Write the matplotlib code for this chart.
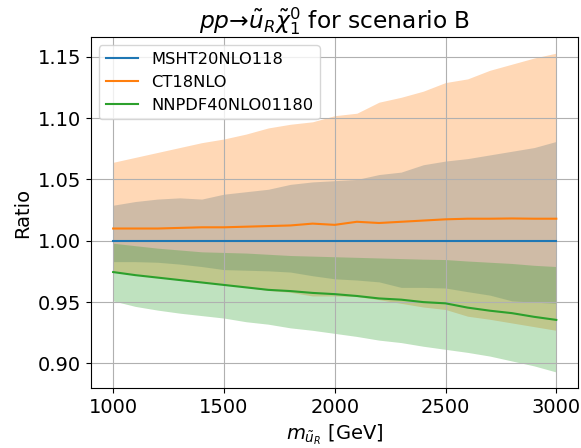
import numpy as np
import matplotlib
matplotlib.use("Agg")
import matplotlib.pyplot as plt

plt.rcParams['font.size'] = 14

mass = [1000, 1100, 1200, 1300, 1400, 1500, 1600, 1700, 1800, 1900, 2000,
        2100, 2200, 2300, 2400, 2500, 2600, 2700, 2800, 2900, 3000]

# MSHT20NLO118 (reference)
msht_central = [1.000] * 21
msht_upper = [1.029, 1.032, 1.034, 1.035, 1.034, 1.038, 1.040, 1.042, 1.046, 1.048, 1.049,
              1.050, 1.054, 1.056, 1.062, 1.065, 1.067, 1.070, 1.073, 1.076, 1.081]
msht_lower = [0.983, 0.983, 0.9825, 0.981, 0.979, 0.9765, 0.976, 0.9755, 0.9745, 0.9715, 0.969,
              0.968, 0.9665, 0.962, 0.962, 0.9615, 0.9585, 0.9557, 0.951, 0.950, 0.949]

# CT18NLO
ct_central = [1.010, 1.010, 1.010, 1.0105, 1.011, 1.011, 1.0115, 1.012, 1.0125, 1.014, 1.013,
              1.0155, 1.0145, 1.0155, 1.0165, 1.0175, 1.018, 1.018, 1.0182, 1.018, 1.018]
ct_upper = [1.064, 1.068, 1.072, 1.076, 1.080, 1.083, 1.087, 1.092, 1.095, 1.097, 1.102,
            1.104, 1.113, 1.117, 1.122, 1.129, 1.132, 1.139, 1.144, 1.149, 1.153]
ct_lower = [0.9745, 0.973, 0.9705, 0.968, 0.966, 0.9645, 0.962, 0.9595, 0.958, 0.955, 0.955,
            0.9545, 0.952, 0.949, 0.946, 0.944, 0.9385, 0.936, 0.933, 0.930, 0.927]

# NNPDF40NLO01180
nn_central = [0.9745, 0.972, 0.970, 0.968, 0.966, 0.964, 0.962, 0.960, 0.959, 0.9575, 0.9565,
              0.955, 0.953, 0.952, 0.950, 0.949, 0.9455, 0.943, 0.941, 0.938, 0.9355]
nn_upper = [0.998, 0.996, 0.994, 0.9925, 0.991, 0.9905, 0.990, 0.989, 0.988, 0.9875, 0.987,
            0.9865, 0.986, 0.9855, 0.985, 0.9847, 0.9835, 0.9825, 0.9815, 0.980, 0.979]
nn_lower = [0.951, 0.9465, 0.9435, 0.941, 0.939, 0.937, 0.934, 0.932, 0.929, 0.927, 0.9245,
            0.922, 0.919, 0.917, 0.914, 0.9115, 0.909, 0.906, 0.902, 0.898, 0.893]

labels = ["MSHT20NLO118", "CT18NLO", "NNPDF40NLO01180"]
colors = ["C0", "C1", "C2"]

fig = plt.figure(figsize=(5.81, 4.48), dpi=100)
ax = fig.add_axes([0.1566, 0.134, 0.839, 0.783])

sets = [(msht_central, msht_lower, msht_upper),
        (ct_central, ct_lower, ct_upper),
        (nn_central, nn_lower, nn_upper)]
for (c, lo, hi), lab, col in zip(sets, labels, colors):
    ax.plot(mass, c, color=col, label=lab)
    ax.fill_between(mass, lo, hi, color=col, alpha=0.3, linewidth=0)

ax.grid(True)
ax.set_xticks([1000, 1500, 2000, 2500, 3000])
ax.set_yticks([0.90, 0.95, 1.00, 1.05, 1.10, 1.15])
ax.set_ylabel("Ratio")
ax.set_xlabel(r"$m_{\tilde{u}_R}$ [GeV]")
ax.set_title(r"$pp$→$\tilde{u}_R\tilde{\chi}_1^0$ for scenario B", fontsize='large')
ax.legend(loc='upper left', fontsize='small')

fig.savefig("out.png", dpi=100)
